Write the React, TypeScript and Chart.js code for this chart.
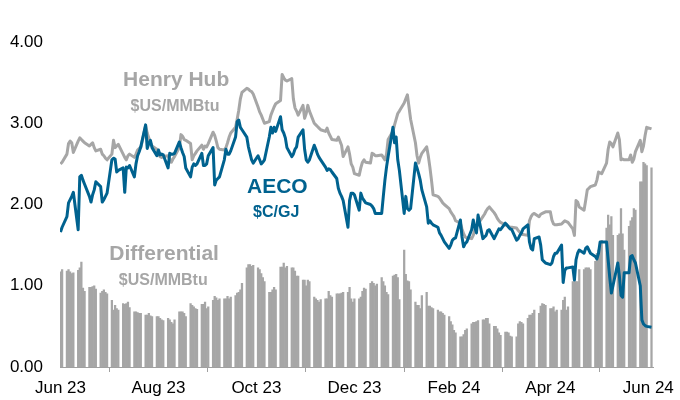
import React, { useEffect, useRef } from "react";
import { Chart, registerables } from "chart.js";

Chart.register(...registerables);

// ---- axis labels ----
const tickLabels = ["Jun 23", "Aug 23", "Oct 23", "Dec 23", "Feb 24", "Apr 24", "Jun 24"];
const tickDates = ["2023-06-01", "2023-08-01", "2023-10-01", "2023-12-01", "2024-02-01", "2024-04-01", "2024-06-01"];
const yTicks = [0, 1, 2, 3, 4];

// trading days (weekdays) from startDate to endDate
const startDate = "2023-06-01";
const endDate = "2024-06-03";

// Henry Hub, $US/MMBtu (weekday values, rows = weeks Mon..Fri)
const henryHub = [
  2.50, 2.52,
  2.62, 2.75, 2.78, 2.76, 2.64,
  2.78, 2.82, 2.80, 2.78, 2.76,
  2.72, 2.74, 2.76, 2.70, 2.66,
  2.68, 2.62, 2.60, 2.57, 2.55,
  2.62, 2.79, 2.70, 2.72, 2.74,
  2.62, 2.58, 2.55, 2.60, 2.62,
  2.58, 2.62, 2.67, 2.69, 2.70,
  2.97, 2.88, 2.82, 2.76, 2.72,
  2.68, 2.62, 2.59, 2.58, 2.59,
  2.60, 2.56, 2.52, 2.56, 2.59,
  2.70, 2.86, 2.84, 2.80, 2.79,
  2.75, 2.55, 2.60, 2.63, 2.66,
  2.73, 2.68, 2.72, 2.71, 2.75,
  2.89, 2.85, 2.78, 2.70, 2.68,
  2.67, 2.70, 2.76, 2.83, 2.88,
  2.95, 3.05, 3.16, 3.30, 3.38,
  3.43, 3.42, 3.40, 3.39, 3.36,
  3.20, 3.14, 3.10, 3.05, 3.00,
  3.02, 3.10, 3.15, 3.20, 3.24,
  3.28, 3.60, 3.56, 3.53, 3.52,
  3.55, 3.30, 3.19, 3.15, 3.10,
  3.22, 3.06, 3.12, 3.22, 3.15,
  3.00, 2.98, 2.96, 2.94, 2.92,
  2.90, 2.94, 2.88, 2.84, 2.80,
  2.79, 2.83, 2.78, 2.73, 2.59,
  2.71, 2.62, 2.50, 2.46, 2.38,
  2.36, 2.45, 2.52, 2.55, 2.52,
  2.51, 2.63, 2.62, 2.60, 2.60,
  2.61, 2.58, 2.55, 2.62, 2.80,
  2.90, 2.98, 3.05, 3.12, 3.15,
  3.25, 3.30, 3.35, 3.20, 3.05,
  2.76, 2.60, 2.51, 2.58, 2.63,
  2.71, 2.60, 2.46, 2.30, 2.12,
  2.10, 2.08, 2.05, 2.02, 2.00,
  1.95, 1.91, 1.88, 1.85, 1.80,
  1.77, 1.70, 1.64, 1.60, 1.59,
  1.58, 1.62, 1.69, 1.72, 1.76,
  1.85, 1.88, 1.92, 1.95, 1.97,
  1.90, 1.87, 1.83, 1.80, 1.78,
  1.75, 1.74, 1.73, 1.72, 1.72,
  1.71, 1.68, 1.66, 1.64, 1.63,
  1.62, 1.80, 1.85, 1.88, 1.89,
  1.85, 1.88, 1.89, 1.90, 1.91,
  1.91, 1.81, 1.76, 1.75, 1.75,
  1.76, 1.78, 1.80, 1.79, 1.78,
  1.70, 1.62, 2.05, 2.03, 1.97,
  1.93, 2.05, 2.18, 2.20, 2.22,
  2.24, 2.30, 2.40, 2.39, 2.38,
  2.51, 2.68, 2.77, 2.75, 2.71,
  2.88, 2.80, 2.55, 2.56, 2.55,
  2.55, 2.61, 2.52, 2.56, 2.65,
  2.79, 2.65, 2.72, 2.85, 2.95,
  2.93,
];

// AECO, $C/GJ
const aeco = [
  1.66, 1.72,
  1.85, 2.02, 2.06, 2.10, 2.15,
  1.69, 2.34, 2.36, 2.30, 2.25,
  2.10, 2.03, 2.12, 2.18, 2.28,
  2.22, 2.03, 2.06, 2.10, 2.14,
  2.55, 2.57, 2.56, 2.40, 2.42,
  2.45, 2.15, 2.46, 2.45, 2.48,
  2.34, 2.50, 2.60, 2.65, 2.71,
  2.98, 2.69, 2.75, 2.79, 2.70,
  2.60, 2.67, 2.61, 2.62, 2.61,
  2.45, 2.63, 2.62, 2.62, 2.63,
  2.77, 2.70, 2.64, 2.59, 2.45,
  2.34, 2.46, 2.50, 2.48, 2.50,
  2.63, 2.48, 2.48, 2.50, 2.60,
  2.70, 2.24, 2.30, 2.32, 2.34,
  2.55, 2.68, 2.62, 2.62, 2.66,
  2.83, 3.02, 3.04, 2.95, 2.92,
  2.83, 2.71, 2.63, 2.55, 2.51,
  2.60, 2.55, 2.50, 2.52, 2.55,
  2.83, 2.95, 2.88, 2.95, 2.90,
  3.08, 2.92, 2.88, 2.82, 2.70,
  2.59, 2.62, 2.68, 2.71, 2.83,
  2.92, 2.68, 2.55, 2.52, 2.55,
  2.73, 2.68, 2.62, 2.58, 2.55,
  2.46, 2.42, 2.44, 2.43, 2.40,
  2.32, 2.20, 2.14, 2.10, 2.05,
  1.72, 2.05, 2.14, 2.14, 2.12,
  1.93, 2.14, 2.08, 2.05, 2.02,
  2.00, 1.98, 1.95, 1.89, 1.89,
  1.89, 2.10, 2.30, 2.46, 2.59,
  2.95, 2.76, 2.83, 2.55, 2.42,
  1.89, 2.10, 1.95, 1.93, 1.95,
  2.51, 2.45, 2.38, 2.30, 2.18,
  1.97, 1.77, 1.80, 1.77, 1.75,
  1.72, 1.65, 1.62, 1.58, 1.54,
  1.46, 1.50, 1.56, 1.58, 1.59,
  1.81, 1.60, 1.48, 1.52, 1.54,
  1.69, 1.81, 1.72, 1.65, 1.87,
  1.58, 1.60, 1.62, 1.68, 1.69,
  1.58, 1.62, 1.66, 1.70, 1.69,
  1.77, 1.75, 1.72, 1.70, 1.69,
  1.56, 1.58, 1.62, 1.65, 1.70,
  1.75, 1.54, 1.46, 1.44, 1.58,
  1.60, 1.50, 1.32, 1.30, 1.28,
  1.26, 1.28, 1.36, 1.40, 1.40,
  1.50, 1.04, 1.19, 1.22, 1.22,
  1.23, 1.07, 1.32, 1.40, 1.44,
  1.40, 1.46, 1.48, 1.44, 1.40,
  1.36, 1.33, 1.40, 1.54, 1.54,
  1.54, 1.32, 1.10, 0.91, 1.00,
  1.28, 1.12, 0.88, 0.86, 1.16,
  1.16, 1.36, 1.37, 1.32, 1.28,
  1.00, 0.58, 0.53, 0.51, 0.50,
  0.49,
];

// Differential, $US/MMBtu
const differential = [
  1.17, 1.20,
  1.18, 1.20, 1.17, 1.15, 1.16,
  1.19, 1.22, 1.29, 0.97, 0.93,
  0.98, 0.98, 0.99, 1.00, 0.96,
  0.91, 0.93, 0.95, 0.92, 0.90,
  0.82, 0.70, 0.76, 0.72, 0.70,
  0.78, 0.77, 0.78, 0.80, 0.73,
  0.68, 0.68, 0.67, 0.66, 0.66,
  0.64, 0.64, 0.66, 0.63, 0.62,
  0.62, 0.62, 0.60, 0.58, 0.57,
  0.60, 0.58, 0.55, 0.53, 0.58,
  0.68, 0.68, 0.68, 0.66, 0.62,
  0.78, 0.76, 0.74, 0.72, 0.71,
  0.77, 0.77, 0.80, 0.72, 0.74,
  0.82, 0.87, 0.85, 0.82, 0.84,
  0.84, 0.84, 0.87, 0.84, 0.86,
  0.88, 0.91, 0.92, 0.95, 1.03,
  1.22, 1.26, 1.26, 1.24, 1.25,
  1.22, 1.20, 1.15, 1.10, 1.05,
  0.92, 0.92, 0.95, 0.98, 0.95,
  1.23, 1.23, 1.28, 1.22, 1.24,
  1.22, 1.22, 1.18, 1.12, 1.12,
  1.07, 1.07, 1.00, 1.07, 1.05,
  0.86, 0.84, 0.82, 0.80, 0.83,
  0.84, 0.84, 0.93, 0.88, 0.86,
  0.90, 0.90, 0.90, 0.91, 0.92,
  0.92, 0.98, 0.84, 0.80, 0.84,
  0.84, 0.86, 0.93, 0.97, 0.96,
  1.03, 1.05, 1.03, 1.00, 1.02,
  1.10, 1.05, 1.00, 0.92, 0.89,
  1.12, 1.13, 1.14, 1.10, 0.83,
  1.44, 1.14, 1.06, 1.05, 0.95,
  0.80, 0.76, 0.76, 0.72, 0.88,
  0.92, 0.75, 0.75, 0.73, 0.72,
  0.70, 0.68, 0.68, 0.66, 0.64,
  0.62, 0.56, 0.52, 0.45, 0.42,
  0.37, 0.37, 0.40, 0.45, 0.47,
  0.53, 0.55, 0.55, 0.56, 0.57,
  0.58, 0.58, 0.60, 0.60, 0.53,
  0.50, 0.50, 0.47, 0.42, 0.39,
  0.43, 0.43, 0.42, 0.38, 0.37,
  0.37, 0.53, 0.56, 0.55, 0.53,
  0.60, 0.64, 0.64, 0.66, 0.70,
  0.66, 0.75, 0.78, 0.77, 0.76,
  0.72, 0.72, 0.74, 0.68, 0.70,
  0.70, 0.82, 0.86, 0.70, 0.74,
  1.05, 1.05, 1.05, 1.05, 1.20,
  1.20, 1.22, 1.22, 1.22, 1.20,
  1.30, 1.40, 1.44, 1.50, 1.56,
  1.71, 1.87, 1.75, 1.85, 1.62,
  1.62, 1.64, 1.95, 1.64, 1.44,
  1.73, 1.80, 1.84, 1.95, 1.93,
  2.28, 2.28, 2.52, 2.50, 2.48,
  2.45,
];

const BLUE = "#00628F";
const GRAY_LINE = "#A6A6A6";
const GRAY_BAR = "#A6A6A6";
const GRAY_TEXT = "#A6A6A6";
const FONT = "'Liberation Sans', Arial, Helvetica, sans-serif";

// in-chart series labels (x in days since Jun 1 2023, y in axis units)
const seriesLabels = [
  { text: "Henry Hub", x: 72, y: 3.53, size: 21, color: GRAY_TEXT },
  { text: "$US/MMBtu", x: 71.3, y: 3.21, size: 16, color: GRAY_TEXT },
  { text: "AECO", x: 135, y: 2.215, size: 21, color: BLUE },
  { text: "$C/GJ", x: 134.3, y: 1.895, size: 16, color: BLUE },
  { text: "Differential", x: 64.5, y: 1.39, size: 21, color: GRAY_TEXT },
  { text: "$US/MMBtu", x: 64, y: 1.06, size: 16, color: GRAY_TEXT },
];

const DAY = 86400000;
const T0 = Date.UTC(2023, 5, 1);
function dayOf(s: string): number {
  const [y, m, d] = s.split("-").map(Number);
  return Math.round((Date.UTC(y, m - 1, d) - T0) / DAY);
}

const labelPlugin = {
  id: "seriesLabels",
  afterDatasetsDraw(chart: any) {
    const { ctx, scales } = chart;
    ctx.save();
    ctx.textAlign = "center";
    ctx.textBaseline = "middle";
    for (const a of seriesLabels) {
      ctx.font = `bold ${a.size}px ${FONT}`;
      ctx.fillStyle = a.color;
      ctx.fillText(a.text, scales.x.getPixelForValue(a.x), scales.y.getPixelForValue(a.y));
    }
    ctx.restore();
  },
};

export default function App() {
  const ref = useRef<HTMLCanvasElement>(null);

  useEffect(() => {
    if (!ref.current) return;
    Chart.defaults.font.family = FONT;
    const days: number[] = [];
    const last = dayOf(endDate);
    for (let d = dayOf(startDate); d <= last; d++) {
      const wd = new Date(T0 + d * DAY).getUTCDay();
      if (wd !== 0 && wd !== 6) days.push(d);
    }
    const pts = (arr: number[]) =>
      days.slice(0, arr.length).map((d, i) => ({ x: d, y: arr[i] }));
    const tickDays = tickDates.map(dayOf);

    const chart = new Chart(ref.current, {
      type: "bar",
      data: {
        datasets: [
          {
            type: "line",
            label: "AECO",
            data: pts(aeco),
            borderColor: BLUE,
            borderWidth: 3,
            pointRadius: 0,
            tension: 0,
            borderJoinStyle: "round",
            order: 0,
          } as any,
          {
            type: "line",
            label: "Henry Hub",
            data: pts(henryHub),
            borderColor: GRAY_LINE,
            borderWidth: 3,
            pointRadius: 0,
            tension: 0,
            borderJoinStyle: "round",
            order: 1,
          } as any,
          {
            type: "bar",
            label: "Differential",
            data: pts(differential),
            backgroundColor: GRAY_BAR,
            barPercentage: 1,
            categoryPercentage: 1,
            order: 2,
          } as any,
        ],
      },
      options: {
        animation: false,
        responsive: false,
        layout: { padding: { left: 8, right: 22, top: 42, bottom: 2 } },
        plugins: { legend: { display: false }, tooltip: { enabled: false } },
        scales: {
          x: {
            type: "linear",
            min: -0.31,
            max: 369.05,
            offset: false,
            afterFit: (s: any) => {
              s.height = 31;
            },
            afterBuildTicks: (s: any) => {
              s.ticks = tickDays.map((v) => ({ value: v }));
            },
            ticks: {
              autoSkip: false,
              maxRotation: 0,
              color: "#000",
              font: { size: 17 },
              padding: 6,
              callback: (_v: any, i: number) => tickLabels[i],
            },
            grid: { display: true, drawOnChartArea: false, drawTicks: true, tickLength: 5, color: "#A0A0A0" },
            border: { display: true, color: "#A0A0A0", width: 1 },
          },
          y: {
            min: yTicks[0],
            max: yTicks[yTicks.length - 1],
            afterFit: (s: any) => {
              s.width = 52;
            },
            afterBuildTicks: (s: any) => {
              s.ticks = yTicks.map((v) => ({ value: v }));
            },
            ticks: {
              color: "#000",
              font: { size: 17 },
              padding: 17,
              callback: (v: any) => Number(v).toFixed(2),
            },
            grid: { display: false, drawTicks: false },
            border: { display: false },
          },
        },
      } as any,
      plugins: [labelPlugin],
    });
    return () => chart.destroy();
  }, []);

  return (
    <div style={{ position: "fixed", left: 0, top: 0, width: 680, height: 400, background: "#fff" }}>
      <canvas ref={ref} width={680} height={400} style={{ display: "block" }} />
    </div>
  );
}
